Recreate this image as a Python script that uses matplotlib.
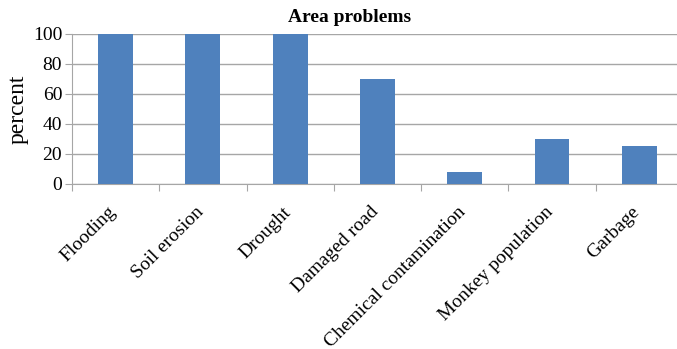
import matplotlib.pyplot as plt
import matplotlib.transforms as mtransforms
import numpy as np

problems = ["Flooding", "Soil erosion", "Drought", "Damaged road",
            "Chemical contamination", "Monkey population", "Garbage"]
percent = [100, 100, 100, 70, 8, 30, 25]
y_ticks = [0, 20, 40, 60, 80, 100]

plt.rcParams['font.family'] = ['Liberation Serif', 'DejaVu Serif']

fig = plt.figure(figsize=(6.77, 3.49), dpi=100)
ax = fig.add_axes([0.1063, 0.4728, 0.9025, 0.4298])

x = np.arange(len(problems))
ax.bar(x, percent, width=0.4, color="#4F81BD", zorder=3)

ax.set_xlim(-0.5, len(problems) - 0.5)
ax.set_ylim(0, 100)
ax.set_yticks(y_ticks)
ax.yaxis.grid(True, color="#A6A6A6", linewidth=1.0, zorder=0)

# ticks sit on category boundaries, labels on category centres
ax.set_xticks(np.arange(len(problems) + 1) - 0.5)
ax.set_xticklabels([])
ax.set_xticks(x, minor=True)
ax.set_xticklabels(problems, minor=True, rotation=45, ha="right", va="top",
                   rotation_mode="anchor", fontsize=14)
ax.tick_params(axis="x", which="minor", length=0, pad=14)
ax.tick_params(axis="x", which="major", length=5, color="#A6A6A6")
ax.tick_params(axis="y", length=5, color="#A6A6A6", labelsize=14, pad=2)

# nudge the slanted labels left so they end under the bar centres
shift = mtransforms.ScaledTranslation(-0.08, 0, fig.dpi_scale_trans)
for lbl in ax.get_xticklabels(minor=True):
    lbl.set_transform(lbl.get_transform() + shift)

for side in ["top", "right"]:
    ax.spines[side].set_visible(False)
for side in ["left", "bottom"]:
    ax.spines[side].set_color("#A6A6A6")

ax.set_ylabel("percent", fontsize=17, labelpad=3)
fig.text(350 / 677, 1 - 18 / 349, "Area problems", ha="center", va="center",
         fontsize=14, fontweight="bold")

fig.savefig("out.png", dpi=100)
